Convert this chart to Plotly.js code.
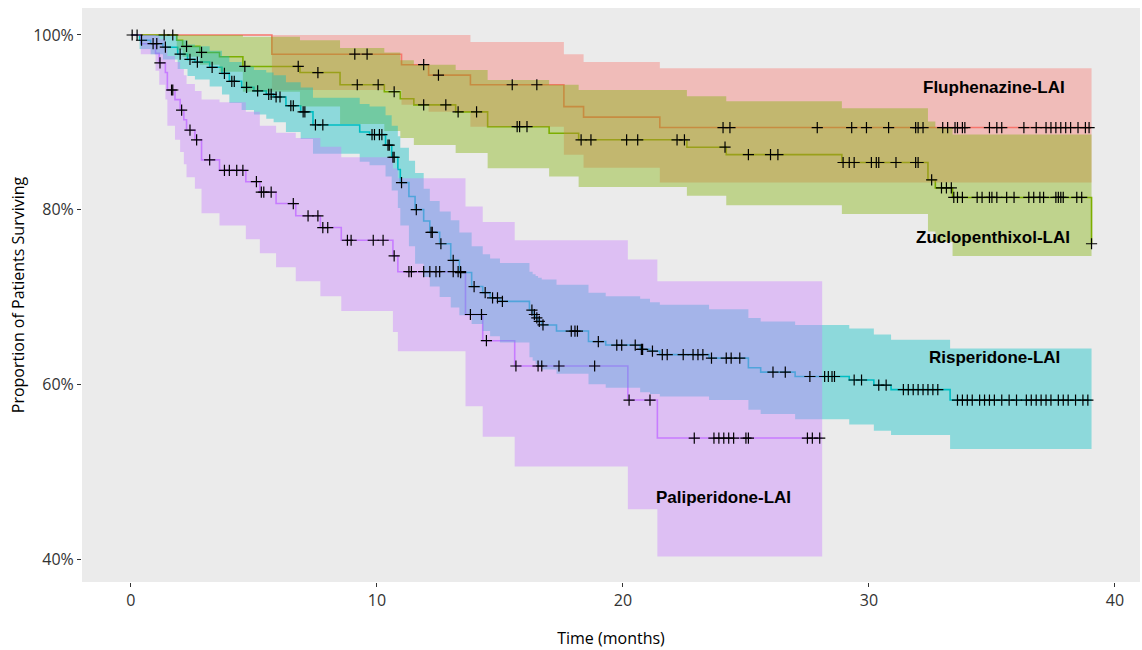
<!DOCTYPE html>
<html>
<head>
<meta charset="utf-8">
<script src="https://cdn.plot.ly/plotly-3.0.1.min.js"></script>
<style>html,body{margin:0;padding:0;background:#fff;}#chart{width:1142px;height:650px;}</style>
</head>
<body>
<div id="chart"></div>
<script>
// ---------- Fluphenazine-LAI ----------
const fluTime  = [0, 5.73, 11.0, 12.1, 13.8, 17.6, 18.4, 21.5];
const fluSurv  = [100, 97.8, 96.6, 95.4, 94.3, 91.8, 90.6, 89.4];
const fluLower = [100, 93.7, 92.0, 91.2, 89.5, 86.3, 84.8, 83.1];
const fluUpper = [100, 100, 100, 100, 99.2, 97.8, 96.9, 96.2];
const fluEnd = 39.05;
const fluCensor = [1.35, 1.7, 9.1, 9.6, 11.9, 12.5, 15.5, 16.5, 24.07, 24.35, 27.9, 29.3, 29.9, 30.8, 31.9, 32.0, 32.2, 33.0, 33.2, 33.5, 33.6, 33.8, 33.9, 34.9, 35.2, 35.4, 36.3, 36.8, 37.2, 37.4, 37.6, 37.8, 38.0, 38.2, 38.5, 38.8, 38.95];

// ---------- Zuclopenthixol-LAI ----------
const zucTime  = [0, 1.86, 2.1, 2.8, 3.6, 4.55, 6.87, 8.5, 10.3, 10.95, 11.5, 13.2, 14.5, 17.0, 18.2, 22.6, 24.2, 28.9, 32.4, 32.7, 33.4, 39.05];
const zucSurv  = [100, 99.4, 98.7, 98.0, 97.5, 96.4, 95.7, 94.3, 93.5, 92.7, 92.0, 91.2, 89.5, 88.75, 88.0, 87.15, 86.3, 85.4, 83.4, 82.5, 81.4, 76.1];
const zucLower = [100, 98.3, 97.5, 96.6, 95.8, 93.5, 91.8, 89.8, 89.0, 88.2, 87.4, 86.5, 84.75, 83.8, 82.6, 81.6, 80.5, 79.5, 77.5, 76.3, 74.7, 74.7];
const zucUpper = [100, 100, 100, 100, 100, 99.8, 99.4, 98.5, 98.0, 97.1, 96.6, 96.0, 94.85, 94.3, 93.7, 93.0, 92.4, 91.6, 90.1, 89.4, 88.6, 88.6];
const zucEnd = 39.05;
const zucCensor = [2.26, 2.87, 4.63, 6.8, 7.6, 9.2, 10.05, 10.7, 11.9, 12.8, 13.3, 14.05, 15.7, 15.8, 16.1, 18.3, 18.7, 20.15, 20.6, 22.2, 22.5, 24.15, 25.1, 26.0, 26.3, 28.95, 29.2, 29.4, 30.1, 30.3, 30.4, 31.1, 31.9, 32.0, 32.55, 32.95, 33.15, 33.35, 33.45, 33.6, 33.8, 34.4, 34.6, 34.9, 35.0, 35.2, 35.6, 35.9, 36.5, 36.7, 36.95, 37.1, 37.6, 37.7, 37.8, 37.9, 38.45, 38.65, 39.05];

// ---------- Risperidone-LAI ----------
const rspTime  = [0, 0.35, 0.8, 1.3, 1.9, 2.3, 2.6, 3.2, 3.7, 4.0, 4.5, 5.0, 5.5, 5.8, 6.3, 6.9, 7.4, 9.3, 9.7, 10.35, 10.6, 10.85, 10.95, 11.3, 11.55, 11.9, 12.15, 12.55, 13.0, 13.35, 13.85, 14.3, 14.6, 15.0, 16.2, 16.33, 16.45, 16.55, 16.7, 17.3, 18.6, 19.3, 20.7, 21.1, 21.5, 23.5, 25.1, 25.6, 27.0, 29.2, 30.2, 30.9, 33.3];
const rspSurv  = [100, 99.4, 99.0, 98.6, 97.8, 97.2, 96.9, 96.3, 95.6, 94.7, 94.0, 93.6, 93.2, 92.9, 91.9, 91.2, 89.7, 88.9, 88.6, 87.4, 86.0, 84.6, 83.1, 81.5, 80.0, 78.7, 77.4, 76.1, 74.2, 72.8, 71.2, 70.5, 69.9, 69.5, 68.5, 68.0, 67.6, 67.2, 66.8, 66.1, 64.9, 64.5, 64.0, 63.8, 63.4, 63.0, 61.9, 61.4, 60.9, 60.5, 59.9, 59.4, 58.2];
const rspLower = [100, 98.4, 97.8, 97.2, 96.1, 95.3, 94.9, 94.1, 93.2, 92.2, 91.4, 90.9, 90.4, 90.0, 88.9, 88.1, 86.4, 85.5, 85.1, 83.8, 82.2, 80.2, 78.2, 75.8, 73.8, 72.3, 71.2, 70.0, 68.8, 67.9, 66.9, 66.1, 65.5, 64.8, 63.1, 62.7, 62.3, 62.0, 61.7, 61.2, 60.0, 59.6, 59.1, 58.9, 58.6, 58.2, 57.1, 56.6, 56.0, 55.4, 54.7, 54.2, 52.6];
const rspUpper = [100, 100, 100, 99.9, 99.4, 98.9, 98.7, 98.2, 97.6, 96.9, 96.4, 96.0, 95.7, 95.4, 94.6, 94.0, 92.8, 92.1, 91.8, 90.8, 89.6, 88.4, 87.1, 85.6, 84.2, 82.4, 81.0, 79.8, 78.8, 77.4, 75.8, 74.9, 74.4, 73.9, 72.9, 72.6, 72.4, 72.2, 72.0, 71.4, 70.5, 70.1, 69.8, 69.4, 69.1, 68.6, 67.6, 67.2, 66.8, 66.4, 65.7, 65.1, 64.1];
const rspEnd = 39.05;
const rspCensor = [0.05, 0.25, 0.43, 0.9, 1.05, 1.4, 2.0, 2.4, 2.7, 3.3, 3.8, 4.1, 4.2, 4.7, 5.15, 5.6, 5.7, 5.9, 6.06, 6.5, 6.6, 7.0, 7.07, 7.5, 7.8, 9.8, 9.9, 10.1, 10.2, 10.45, 10.5, 10.65, 10.7, 11.0, 11.6, 12.2, 12.25, 12.6, 13.1, 13.4, 13.95, 14.4, 14.7, 14.9, 15.1, 16.3, 16.4, 16.5, 16.6, 16.75, 17.9, 18.05, 18.15, 19.0, 19.75, 19.95, 20.5, 20.75, 20.8, 21.2, 21.6, 21.8, 22.45, 22.85, 23.05, 23.25, 23.6, 24.2, 24.4, 24.75, 26.1, 26.6, 27.6, 28.2, 28.35, 28.5, 28.6, 29.4, 29.7, 30.4, 30.7, 31.4, 31.6, 31.8, 32.0, 32.2, 32.4, 32.6, 32.8, 33.6, 33.8, 34.0, 34.2, 34.5, 34.7, 34.9, 35.1, 35.4, 35.7, 36.0, 36.4, 36.6, 36.8, 37.0, 37.2, 37.4, 37.7, 37.9, 38.1, 38.4, 38.7, 38.9];

// ---------- Paliperidone-LAI ----------
const palTime  = [0, 0.4, 1.0, 1.15, 1.4, 1.48, 1.79, 2.0, 2.15, 2.26, 2.6, 2.87, 3.6, 4.67, 5.24, 5.9, 6.7, 7.7, 8.55, 10.65, 10.85, 13.6, 14.3, 15.6, 20.2, 21.4];
const palSurv  = [100, 99.0, 97.9, 96.8, 95.7, 93.7, 92.6, 91.4, 90.3, 89.1, 88.0, 85.7, 84.5, 83.2, 82.0, 80.7, 79.3, 77.95, 76.5, 74.7, 72.9, 68.0, 65.0, 62.1, 58.2, 53.85];
const palLower = [100, 97.8, 95.9, 94.3, 92.6, 89.6, 88.0, 86.6, 85.2, 83.7, 82.4, 79.6, 78.2, 76.6, 75.0, 73.4, 71.8, 70.1, 68.4, 66.0, 63.8, 57.5, 54.0, 50.6, 45.7, 40.3];
const palUpper = [100, 100, 99.9, 99.5, 98.8, 97.6, 96.9, 96.1, 95.4, 94.4, 93.6, 92.6, 92.3, 91.2, 89.6, 88.8, 88.2, 87.2, 86.0, 84.7, 83.6, 80.35, 78.6, 76.5, 74.3, 71.8];
const palEnd = 28.1;
const palCensor = [1.18, 1.65, 1.7, 2.06, 2.4, 2.67, 3.2, 3.8, 4.0, 4.3, 4.55, 5.1, 5.3, 5.4, 5.7, 6.6, 7.2, 7.6, 7.8, 8.0, 8.8, 8.95, 9.85, 10.25, 10.7, 11.3, 11.4, 11.9, 12.15, 12.4, 12.55, 13.1, 13.3, 13.4, 13.8, 14.25, 14.45, 15.65, 16.55, 16.7, 17.4, 18.85, 20.25, 21.1, 22.9, 23.7, 23.9, 24.1, 24.3, 24.5, 25.0, 25.1, 27.5, 27.7, 28.0];

const xTicks = [0, 10, 20, 30, 40];
const yTicks = [40, 60, 80, 100];

const groups = [
  {name: 'Fluphenazine-LAI', t: fluTime, s: fluSurv, lo: fluLower, hi: fluUpper, end: fluEnd, c: fluCensor, col: '248,118,109'},
  {name: 'Zuclopenthixol-LAI', t: zucTime, s: zucSurv, lo: zucLower, hi: zucUpper, end: zucEnd, c: zucCensor, col: '124,174,0'},
  {name: 'Risperidone-LAI', t: rspTime, s: rspSurv, lo: rspLower, hi: rspUpper, end: rspEnd, c: rspCensor, col: '0,191,196'},
  {name: 'Paliperidone-LAI', t: palTime, s: palSurv, lo: palLower, hi: palUpper, end: palEnd, c: palCensor, col: '199,124,255'}
];

function ext(arr, last) { return arr.concat([last]); }
function stepAt(times, vals, x) {
  let v = vals[0];
  for (let i = 0; i < times.length; i++) { if (times[i] <= x) v = vals[i]; }
  return v;
}

const traces = [];
// survival lines (drawn first, ribbons go over them)
groups.forEach(g => {
  traces.push({
    x: ext(g.t, g.end), y: ext(g.s, g.s[g.s.length - 1]),
    mode: 'lines', line: {shape: 'hv', color: 'rgb(' + g.col + ')', width: 1.6},
    hoverinfo: 'skip', showlegend: false
  });
});
// confidence ribbons
groups.forEach(g => {
  traces.push({
    x: ext(g.t, g.end), y: ext(g.lo, g.lo[g.lo.length - 1]),
    mode: 'lines', line: {shape: 'hv', width: 0, color: 'rgba(0,0,0,0)'},
    hoverinfo: 'skip', showlegend: false
  });
  traces.push({
    x: ext(g.t, g.end), y: ext(g.hi, g.hi[g.hi.length - 1]),
    mode: 'lines', line: {shape: 'hv', width: 0, color: 'rgba(0,0,0,0)'},
    fill: 'tonexty', fillcolor: 'rgba(' + g.col + ',0.4)',
    hoverinfo: 'skip', showlegend: false
  });
});
// censor marks
groups.forEach(g => {
  traces.push({
    x: g.c, y: g.c.map(v => stepAt(g.t, g.s, v)),
    mode: 'markers',
    marker: {symbol: 'cross-thin', size: 8, color: '#000', line: {color: '#000', width: 1.2}},
    hoverinfo: 'skip', showlegend: false
  });
});

const labelFont = {family: 'Liberation Sans, Arial, sans-serif', size: 17, color: '#000'};

const layout = {
  width: 1142, height: 650,
  margin: {l: 82, r: 2, t: 8, b: 68},
  paper_bgcolor: '#ffffff',
  plot_bgcolor: '#EBEBEB',
  showlegend: false,
  xaxis: {
    range: [-1.99, 41.02], tickvals: xTicks, ticktext: xTicks.map(String),
    ticks: 'outside', ticklen: 4, tickwidth: 1, tickcolor: '#333333',
    showgrid: false, zeroline: false, showline: false,
    tickfont: {family: 'Open Sans, sans-serif', size: 16, color: '#333333'},
    title: {text: 'Time (months)', font: {family: 'Open Sans, sans-serif', size: 16, color: '#000'}, standoff: 22}
  },
  yaxis: {
    range: [37.37, 103.09], tickvals: yTicks, ticktext: yTicks.map(v => v + '%'),
    ticks: 'outside', ticklen: 4, tickwidth: 1, tickcolor: '#333333',
    showgrid: false, zeroline: false, showline: false,
    tickfont: {family: 'Open Sans, sans-serif', size: 16, color: '#333333'},
    title: {text: 'Proportion of Patients Surviving', font: {family: 'Open Sans, sans-serif', size: 16, color: '#000'}, standoff: 4}
  },
  annotations: [
    {x: 35.08, y: 93.94, text: '<b>Fluphenazine-LAI</b>', showarrow: false, font: labelFont},
    {x: 35.06, y: 76.77, text: '<b>Zuclopenthixol-LAI</b>', showarrow: false, font: labelFont},
    {x: 35.1, y: 63.04, text: '<b>Risperidone-LAI</b>', showarrow: false, font: labelFont},
    {x: 24.07, y: 47.0, text: '<b>Paliperidone-LAI</b>', showarrow: false, font: labelFont}
  ]
};

Plotly.newPlot('chart', traces, layout, {displayModeBar: false, staticPlot: true});
</script>
</body>
</html>
